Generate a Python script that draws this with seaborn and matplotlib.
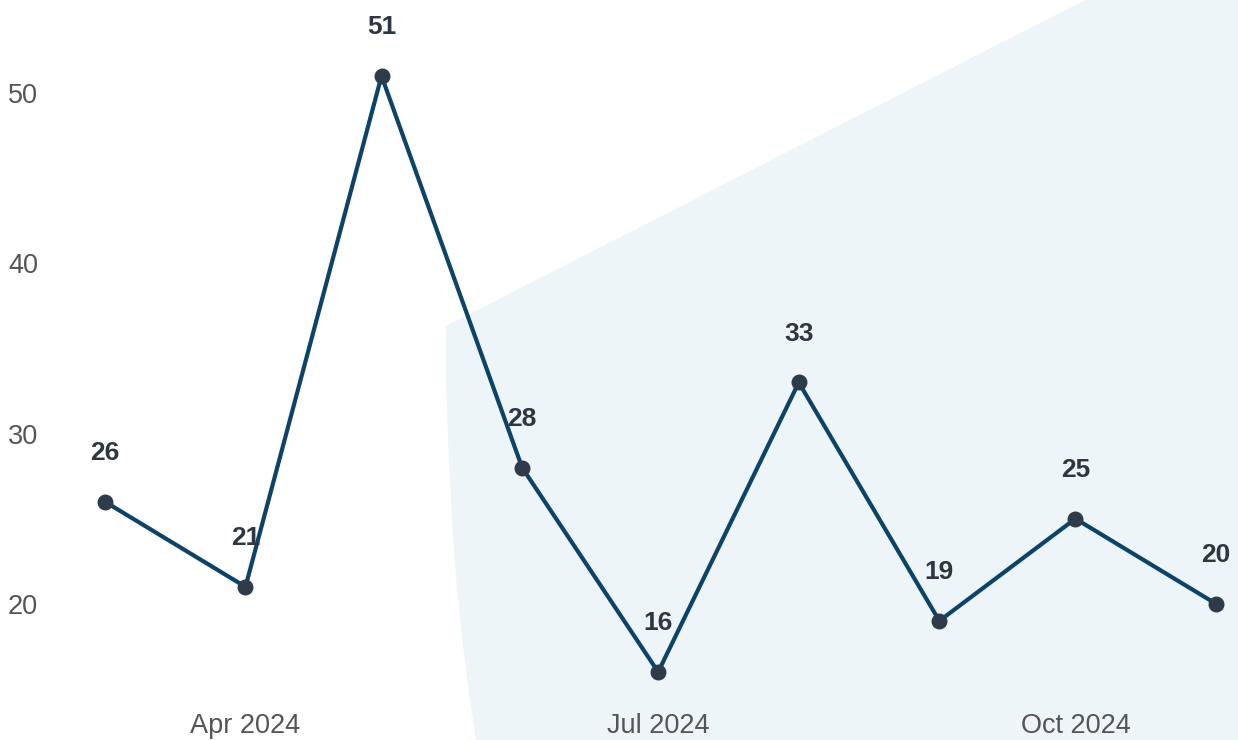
import matplotlib
matplotlib.use("Agg")
import matplotlib.pyplot as plt
import matplotlib.dates as mdates
from matplotlib.patches import Polygon
import pandas as pd
import seaborn as sns

months = ["2024-03", "2024-04", "2024-05", "2024-06", "2024-07",
          "2024-08", "2024-09", "2024-10", "2024-11"]
values = [26, 21, 51, 28, 16, 33, 19, 25, 20]
tick_months = ["2024-04", "2024-07", "2024-10"]
y_ticks = [20, 30, 40, 50]

df = pd.DataFrame({"month": pd.to_datetime(months), "value": values})

sns.set_theme(style="white")
plt.rcParams["font.family"] = ["Liberation Sans", "DejaVu Sans"]

W, H = 1238, 740
fig = plt.figure(figsize=(W / 100, H / 100), dpi=100)
ax = fig.add_axes([50 / W, 35 / H, 1 - 50 / W, 1 - 35 / H])
ax.patch.set_alpha(0)

# light background shape (figure pixel coords, y from top)
shape_px = [(446, 326), (1085, 0), (W, 0), (W, H), (476, H), (470, 700),
            (463, 645), (457, 590), (452, 520), (448, 440), (446, 380)]
shape = Polygon([(x / W, 1 - y / H) for x, y in shape_px], closed=True,
                transform=fig.transFigure, facecolor="#eef5f8",
                edgecolor="none", zorder=-1)
fig.add_artist(shape)

sns.lineplot(data=df, x="month", y="value", ax=ax, color="#0d4369",
             linewidth=3, zorder=2)
ax.scatter(df["month"], df["value"], s=110, color="#2e3c4a", zorder=3)

for d, v in zip(df["month"], df["value"]):
    ax.annotate(str(v), (d, v), xytext=(0, 35), textcoords="offset points",
                ha="center", va="center", fontsize=19, fontweight="bold",
                color="#2e3642", zorder=4)

ax.set_xlim(df["month"].iloc[0] - pd.Timedelta(days=12.1),
            df["month"].iloc[-1] + pd.Timedelta(days=4.85))
ax.set_ylim(14.06, 55.46)
ax.set_xticks(pd.to_datetime(tick_months))
ax.xaxis.set_major_formatter(mdates.DateFormatter("%b %Y"))
ax.set_yticks(y_ticks)
ax.tick_params(axis="both", length=0, labelsize=19.5, labelcolor="#555555")
ax.tick_params(axis="x", pad=6)
ax.tick_params(axis="y", pad=8.6)
ax.set_xlabel("")
ax.set_ylabel("")
sns.despine(ax=ax, left=True, bottom=True)
ax.grid(False)

fig.savefig("out.png", dpi=100)
